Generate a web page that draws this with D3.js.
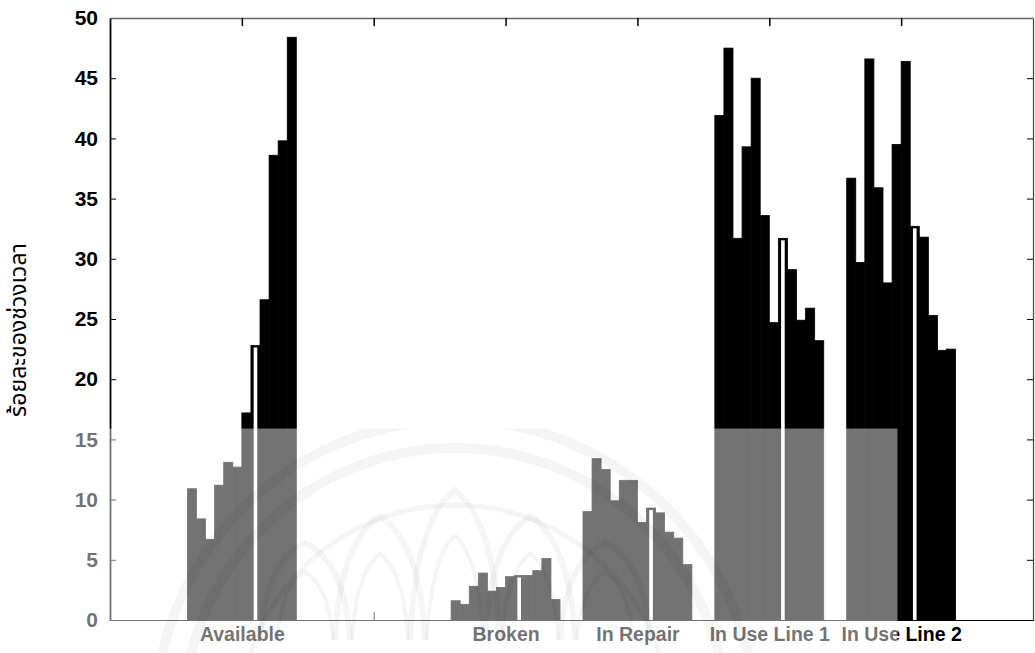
<!DOCTYPE html>
<html>
<head>
<meta charset="utf-8">
<script src="https://cdn.jsdelivr.net/npm/d3@7"></script>
<style>
  html, body { margin: 0; padding: 0; background: #fff; }
  svg { display: block; }
</style>
</head>
<body>
<svg id="chart" width="1035" height="653"></svg>
<script>
// Categories along the x axis (one slot is left unlabelled and empty)
const categories = ["Available", "", "Broken", "In Repair", "In Use Line 1", "In Use Line 2"];

// Twelve periods per category, percent of time
const availableValues = [10.9, 8.4, 6.7, 11.2, 13.1, 12.7, 17.2, 22.8, 26.6, 38.6, 39.8, 48.4];
const emptyValues     = [0, 0, 0, 0, 0, 0, 0, 0, 0, 0, 0, 0];
const brokenValues    = [1.6, 1.3, 2.8, 3.9, 2.4, 2.7, 3.6, 3.7, 3.7, 4.1, 5.1, 1.7];
const inRepairValues  = [9.0, 13.4, 12.5, 9.9, 11.6, 11.6, 8.1, 9.3, 8.9, 7.3, 6.8, 4.6];
const inUseLine1Values = [41.9, 47.5, 31.7, 39.3, 45.0, 33.6, 24.7, 31.7, 29.1, 24.9, 25.9, 23.2];
const inUseLine2Values = [36.7, 29.7, 46.6, 35.9, 28.0, 39.5, 46.4, 32.7, 31.8, 25.3, 22.4, 22.5];

const yTicks = [0, 5, 10, 15, 20, 25, 30, 35, 40, 45, 50];
const yTitle = "ร้อยละของช่วงเวลา";

const groups = [availableValues, emptyValues, brokenValues, inRepairValues, inUseLine1Values, inUseLine2Values];
const periods = d3.range(availableValues.length);
const hollowPeriod = 7;   // this period is drawn as an outlined bar

const width = 1035, height = 653;
const plot = { left: 110, right: 1033, top: 18, bottom: 620 };

const svg = d3.select("#chart");

const x = d3.scaleLinear().domain([0, categories.length + 1]).range([plot.left, plot.right]);
const y = d3.scaleLinear().domain([0, 50]).range([plot.bottom, plot.top]);

const groupWidth = (x(1) - x(0)) * 0.826;
const xInner = d3.scaleBand().domain(periods).range([-groupWidth / 2, groupWidth / 2]).padding(0);
const bw = xInner.bandwidth();

// Bars
const barLayer = svg.append("g");
groups.forEach((vals, ci) => {
  const cx = x(ci + 1);
  const data = vals.map((v, j) => ({ v, j })).filter(d => d.v > 0);
  barLayer.selectAll(null)
    .data(data)
    .enter().append("rect")
    .attr("x", d => cx + xInner(d.j))
    .attr("width", bw)
    .attr("y", d => y(d.v))
    .attr("height", d => y(0) - y(d.v))
    .attr("fill", "#000")
    .attr("stroke", "#000")
    .attr("stroke-width", 0.8);
  // white core of the outlined bar
  barLayer.selectAll(null)
    .data(data.filter(d => d.j === hollowPeriod))
    .enter().append("rect")
    .attr("x", d => cx + xInner(d.j) + bw * 0.3)
    .attr("width", bw * 0.4)
    .attr("y", d => y(d.v) + 2)
    .attr("height", d => Math.max(0, y(0) - y(d.v) - 2))
    .attr("fill", "#fff");
});

// Axes (ticks point inward)
const font = "\"Liberation Sans\", Arial, sans-serif";

const axisLeftG = svg.append("g").attr("transform", `translate(${plot.left},0)`)
  .call(d3.axisLeft(y).tickValues(yTicks).tickSizeInner(-6).tickSizeOuter(0).tickPadding(12));
axisLeftG.select(".domain").attr("stroke", "#000").attr("stroke-width", 1.8);
axisLeftG.selectAll(".tick line").attr("stroke", "#000");
axisLeftG.selectAll(".tick text").attr("font-size", 21).attr("font-weight", "bold")
  .attr("fill", "#000").style("font-family", font);

const axisRightG = svg.append("g").attr("transform", `translate(${plot.right},0)`)
  .call(d3.axisRight(y).tickValues(yTicks).tickSizeInner(-6).tickSizeOuter(0).tickFormat(""));
axisRightG.select(".domain").attr("stroke", "#444").attr("stroke-width", 1.2);

const catTicks = categories.map((c, i) => i + 1);

const axisTopG = svg.append("g").attr("transform", `translate(0,${plot.top})`)
  .call(d3.axisTop(x).tickValues(catTicks).tickSizeInner(-8).tickSizeOuter(0).tickFormat(""));
axisTopG.select(".domain").attr("stroke", "#666").attr("stroke-width", 1.5);
axisTopG.selectAll(".tick line").attr("stroke", "#000").attr("stroke-width", 1.5);

const axisBottomG = svg.append("g").attr("transform", `translate(0,${plot.bottom})`)
  .call(d3.axisBottom(x).tickValues(catTicks).tickSizeInner(-8).tickSizeOuter(0)
    .tickPadding(7).tickFormat((d, i) => categories[i]));
axisBottomG.select(".domain").attr("stroke", "#000").attr("stroke-width", 1.2);
axisBottomG.selectAll(".tick line").attr("stroke", "#000");
axisBottomG.selectAll(".tick text").attr("font-size", 19.5).attr("font-weight", "bold")
  .attr("fill", "#000").style("font-family", font);

// Y axis title
svg.append("text")
  .attr("transform", `translate(20,330) rotate(-90)`)
  .attr("text-anchor", "middle")
  .attr("dominant-baseline", "middle")
  .style("font-family", "\"Noto Sans Thai\", \"Noto Sans\", Tahoma, sans-serif")
  .attr("font-size", 23)
  .attr("fill", "#000")
  .text(yTitle);

// Faded seal in the lower left: lightening wash plus faint rings and petals
const seal = { x0: 0, x1: 897.5, y0: y(15.9), y1: height };
svg.append("clipPath").attr("id", "sealClip")
  .append("rect").attr("x", seal.x0).attr("y", seal.y0)
  .attr("width", seal.x1 - seal.x0).attr("height", seal.y1 - seal.y0);

svg.append("rect")
  .attr("x", seal.x0).attr("y", seal.y0)
  .attr("width", seal.x1 - seal.x0).attr("height", seal.y1 - seal.y0)
  .attr("fill", "#fff").attr("opacity", 0.45);

const sealG = svg.append("g").attr("clip-path", "url(#sealClip)")
  .attr("fill", "none").attr("stroke", "#000").attr("stroke-opacity", 0.04);
const cx0 = 455, cy0 = 720;
[300, 272].forEach(r => sealG.append("circle").attr("cx", cx0).attr("cy", cy0).attr("r", r).attr("stroke-width", 10));
sealG.append("circle").attr("cx", cx0).attr("cy", cy0).attr("r", 215).attr("stroke-width", 5);
// petals
[-150, -75, 0, 75, 150].forEach(dx => {
  const bx = cx0 + dx, h = 150 - Math.abs(dx) * 0.35;
  sealG.append("path")
    .attr("d", `M${bx - 45},640 Q${bx - 40},${640 - h * 0.8} ${bx},${640 - h} Q${bx + 40},${640 - h * 0.8} ${bx + 45},640`)
    .attr("stroke-width", 6);
  sealG.append("path")
    .attr("d", `M${bx - 28},640 Q${bx - 24},${640 - h * 0.55} ${bx},${640 - h * 0.7} Q${bx + 24},${640 - h * 0.55} ${bx + 28},640`)
    .attr("stroke-width", 4);
});
</script>
</body>
</html>
